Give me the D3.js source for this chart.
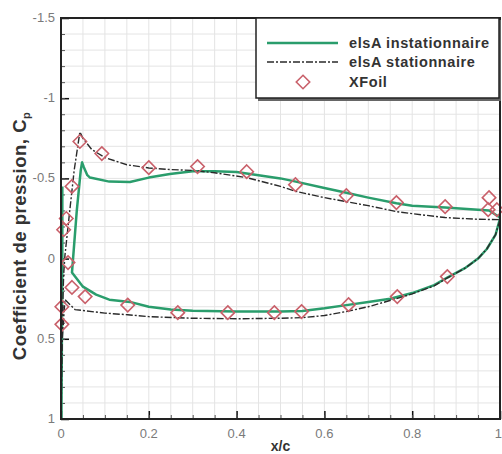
<!DOCTYPE html>
<html><head><meta charset="utf-8">
<script src="https://cdn.jsdelivr.net/npm/d3@7"></script>
<style>body{margin:0;background:#fff}svg{display:block}</style>
</head><body><svg id="c" width="502" height="454"></svg>
<script>
// ---- data ----
const xTicks = [0, 0.2, 0.4, 0.6, 0.8, 1];
const yTicks = [-1.5, -1, -0.5, 0, 0.5, 1];
const xTickLabels = ["0", "0.2", "0.4", "0.6", "0.8", "1"];
const yTickLabels = ["-1.5", "-1", "-0.5", "0", "0.5", "1"];
const seriesNames = ["elsA instationnaire", "elsA stationnaire", "XFoil"];

// elsA instationnaire (x/c, Cp) — upper surface TE -> peak -> lower surface -> TE
const instatX = [1.0, 0.975, 0.95, 0.875, 0.8, 0.764, 0.7, 0.65, 0.6, 0.535, 0.5, 0.45, 0.4, 0.35, 0.3, 0.248, 0.2, 0.157, 0.11, 0.066, 0.06, 0.052, 0.048, 0.045, 0.036, 0.025,
                 0.05, 0.08, 0.11, 0.157, 0.2, 0.25, 0.3, 0.4, 0.5, 0.55, 0.6, 0.65, 0.7, 0.75, 0.8, 0.85, 0.88, 0.92, 0.95, 0.97, 0.99, 1.0];
const instatCp = [-0.256, -0.3, -0.305, -0.318, -0.33, -0.345, -0.38, -0.41, -0.44, -0.48, -0.5, -0.52, -0.54, -0.545, -0.545, -0.527, -0.505, -0.478, -0.48, -0.505, -0.52, -0.57, -0.6, -0.55, -0.3, 0.087,
                  0.175, 0.225, 0.256, 0.27, 0.3, 0.318, 0.325, 0.33, 0.33, 0.326, 0.31, 0.29, 0.27, 0.25, 0.215, 0.165, 0.118, 0.06, 0.0, -0.06, -0.15, -0.25];
// leading-edge branch of the unsteady solution
const instatLeX = [0.003, 0.003, 0.002, 0.001];
const instatLeCp = [-0.45, 0.0, 0.5, 1.0];

// elsA stationnaire — lower TE -> lower surface -> stagnation -> upper surface -> TE
const statX = [1.0, 0.99, 0.97, 0.95, 0.92, 0.88, 0.85, 0.8, 0.77, 0.7, 0.65, 0.6, 0.55, 0.5, 0.4, 0.3, 0.2, 0.152, 0.1, 0.032, 0.009, 0.003, 0.0,
               0.002, 0.006, 0.009, 0.02, 0.03, 0.043, 0.05, 0.07, 0.1, 0.15, 0.2, 0.25, 0.3, 0.35, 0.423, 0.5, 0.534, 0.6, 0.65, 0.7, 0.764, 0.8, 0.875, 0.95, 1.0];
const statCp = [-0.243, -0.15, -0.06, 0.0, 0.06, 0.12, 0.17, 0.22, 0.245, 0.3, 0.33, 0.355, 0.368, 0.372, 0.375, 0.372, 0.362, 0.35, 0.34, 0.318, 0.255, 0.5, 1.0,
                0.5, 0.1, -0.02, -0.3, -0.55, -0.79, -0.75, -0.68, -0.63, -0.585, -0.565, -0.555, -0.55, -0.535, -0.505, -0.45, -0.42, -0.38, -0.355, -0.33, -0.293, -0.28, -0.256, -0.245, -0.243];

// XFoil points
const xfoilX = [0.043, 0.093, 0.2, 0.311, 0.423, 0.534, 0.65, 0.764, 0.875, 0.975, 0.973, 0.993,
                0.025, 0.012, 0.006, 0.016, 0.025, 0.055, 0.002, 0.002,
                0.152, 0.266, 0.38, 0.486, 0.548, 0.655, 0.766, 0.88];
const xfoilCp = [-0.73, -0.655, -0.567, -0.574, -0.542, -0.461, -0.393, -0.349, -0.324, -0.38, -0.305, -0.305,
                 -0.45, -0.25, -0.18, 0.025, 0.18, 0.237, 0.3, 0.41,
                 0.29, 0.337, 0.337, 0.337, 0.33, 0.287, 0.237, 0.112];

// ---- layout ----
const svg = d3.select("#c");
const L = 61, R = 500, T = 18, B = 419;
const x = d3.scaleLinear().domain([0, 1]).range([L, R]);
const y = d3.scaleLinear().domain([-1.5, 1]).range([T, B]);
const green = "#2a9d6c", diaCol = "#c9606a", tickCol = "#7a7a7a";
const FONT = "Liberation Sans, Arial, sans-serif";

svg.append("defs").append("clipPath").attr("id", "clip")
  .append("rect").attr("x", L).attr("y", T).attr("width", R - L).attr("height", B - T);

// grid
const g = svg.append("g");
g.selectAll("line.vg").data(d3.range(1, 20).map(i => i * 0.05)).enter().append("line")
  .attr("x1", d => x(d)).attr("x2", d => x(d)).attr("y1", T).attr("y2", B)
  .attr("stroke", "#e4e4e4").attr("stroke-width", 1);
g.selectAll("line.hg").data(d3.range(1, 25).map(i => -1.5 + i * 0.1)).enter().append("line")
  .attr("y1", d => y(d)).attr("y2", d => y(d)).attr("x1", L).attr("x2", R)
  .attr("stroke", "#e4e4e4").attr("stroke-width", 1);

// axes (ticks inward)
const xAxis = d3.axisTop(x).tickValues(xTicks).tickSize(8).tickFormat("");
svg.append("g").attr("transform", `translate(0,${B})`).call(xAxis)
  .call(s => s.select(".domain").remove())
  .selectAll("line").attr("stroke", "#111").attr("stroke-width", 1.5);
const xMinor = d3.axisTop(x).tickValues(d3.range(0, 21).map(i => i * 0.05)).tickSize(4).tickFormat("");
svg.append("g").attr("transform", `translate(0,${B})`).call(xMinor)
  .call(s => s.select(".domain").remove())
  .selectAll("line").attr("stroke", "#555").attr("stroke-width", 1);
const yAxis = d3.axisRight(y).tickValues(yTicks).tickSize(8).tickFormat("");
svg.append("g").attr("transform", `translate(${L},0)`).call(yAxis)
  .call(s => s.select(".domain").remove())
  .selectAll("line").attr("stroke", "#111").attr("stroke-width", 1.5);
const yMinor = d3.axisRight(y).tickValues(d3.range(0, 26).map(i => -1.5 + i * 0.1)).tickSize(4).tickFormat("");
svg.append("g").attr("transform", `translate(${L},0)`).call(yMinor)
  .call(s => s.select(".domain").remove())
  .selectAll("line").attr("stroke", "#555").attr("stroke-width", 1);

// tick labels
svg.selectAll("text.xt").data(xTicks).enter().append("text")
  .attr("x", (d, i) => i === xTicks.length - 1 ? 502 : x(d)).attr("y", B + 19)
  .attr("text-anchor", (d, i) => i === xTicks.length - 1 ? "end" : "middle")
  .attr("font-family", FONT).attr("font-size", 13).attr("fill", tickCol)
  .text((d, i) => xTickLabels[i]);
svg.selectAll("text.yt").data(yTicks).enter().append("text")
  .attr("x", L - 6).attr("y", d => y(d) + 4).attr("text-anchor", "end")
  .attr("font-family", FONT).attr("font-size", 13).attr("fill", tickCol)
  .text((d, i) => yTickLabels[i]);

// curves
const plot = svg.append("g").attr("clip-path", "url(#clip)");
const line = d3.line().x(d => x(d[0])).y(d => y(d[1]));
const statPts = statX.map((v, i) => [v, statCp[i]]);
const instPts = instatX.map((v, i) => [v, instatCp[i]]);
const instLe = instatLeX.map((v, i) => [v, instatLeCp[i]]);
plot.append("path").datum(instLe).attr("d", line).attr("fill", "none")
  .attr("stroke", green).attr("stroke-width", 2.5);
plot.append("path").datum(instPts).attr("d", line).attr("fill", "none")
  .attr("stroke", green).attr("stroke-width", 2.5).attr("stroke-linejoin", "round");
plot.append("path").datum(statPts).attr("d", line).attr("fill", "none")
  .attr("stroke", "#2a2a2a").attr("stroke-width", 1.4).attr("stroke-dasharray", "7,2,2,2");

const diamond = d3.symbol().type(d3.symbolDiamond2).size(115);
svg.append("g").selectAll("path").data(xfoilX.map((v, i) => [v, xfoilCp[i]])).enter().append("path")
  .attr("d", diamond).attr("transform", d => `translate(${x(d[0])},${y(d[1])})`)
  .attr("fill", "none").attr("stroke", diaCol).attr("stroke-width", 1.6);

// frame
svg.append("rect").attr("x", L).attr("y", T).attr("width", R - L).attr("height", B - T)
  .attr("fill", "none").attr("stroke", "#222").attr("stroke-width", 2);

// axis titles
svg.append("text").attr("x", x(0.5)).attr("y", 451).attr("text-anchor", "middle")
  .attr("font-family", FONT).attr("font-weight", "bold").attr("font-size", 14)
  .attr("fill", "#333").text("x/c");
const yl = svg.append("text").attr("transform", "translate(26,236) rotate(-90)").attr("text-anchor", "middle")
  .attr("font-family", FONT).attr("font-weight", "bold").attr("font-size", 18.5)
  .attr("letter-spacing", 0.5).attr("fill", "#333");
yl.append("tspan").text("Coefficient de pression, C");
yl.append("tspan").attr("font-size", 11).attr("dy", 4).text("p");

// legend
const lg = svg.append("g");
lg.append("rect").attr("x", 258).attr("y", 20).attr("width", 243).attr("height", 81).attr("fill", "#666");
lg.append("rect").attr("x", 256).attr("y", 18).attr("width", 243).attr("height", 80)
  .attr("fill", "#fff").attr("stroke", "#222").attr("stroke-width", 1.5);
const ly = [43, 62, 82];
lg.append("line").attr("x1", 267).attr("x2", 338).attr("y1", ly[0]).attr("y2", ly[0])
  .attr("stroke", green).attr("stroke-width", 2.5);
lg.append("line").attr("x1", 267).attr("x2", 338).attr("y1", ly[1]).attr("y2", ly[1])
  .attr("stroke", "#2a2a2a").attr("stroke-width", 1.4).attr("stroke-dasharray", "7,2,2,2");
lg.append("path").attr("d", diamond).attr("transform", `translate(303,${ly[2]})`)
  .attr("fill", "none").attr("stroke", diaCol).attr("stroke-width", 1.6);
lg.selectAll("text").data(seriesNames).enter().append("text")
  .attr("x", 349).attr("y", (d, i) => ly[i] + 5)
  .attr("font-family", FONT).attr("font-weight", "bold").attr("font-size", 14.5)
  .attr("letter-spacing", 0.6).attr("fill", "#333").text(d => d);
</script></body></html>
